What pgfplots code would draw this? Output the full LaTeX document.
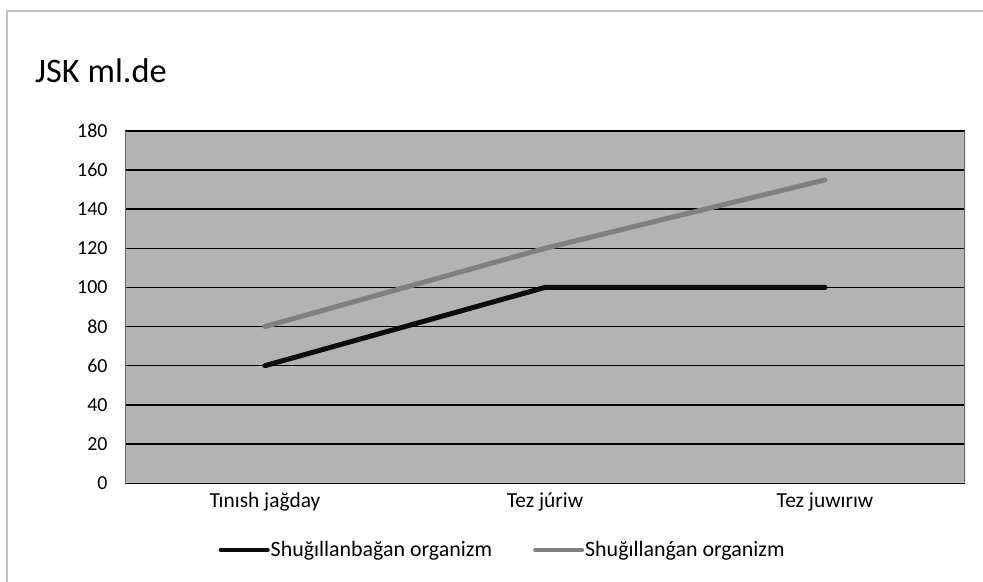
\documentclass[border=0pt]{standalone}
\usepackage{pgfplots}
\pgfplotsset{compat=1.18}
\usepackage{fontspec}
\setmainfont{Carlito}
\definecolor{plotbg}{HTML}{B3B3B3}
\definecolor{graylinec}{HTML}{808080}
\definecolor{framec}{HTML}{C0C0C0}
\begin{document}
\begin{tikzpicture}[x=1bp,y=1bp]
\path[use as bounding box] (0,0) rectangle (983,582);
\draw[framec,line width=1.5bp] (7,0) -- (7,571) -- (983,571);
\node[anchor=base west,inner sep=0pt,font=\fontsize{34.5}{38}\selectfont] at (35,499) {JSK ml.de};
\begin{axis}[
  at={(125bp,99bp)}, anchor=south west,
  scale only axis, width=840bp, height=352bp,
  xmin=-0.5, xmax=2.5, ymin=0, ymax=180,
  xtick={0,1,2}, xticklabels={Tınısh jağday, Tez júriw, Tez juwırıw},
  ytick={0,20,...,180},
  major tick length=0pt,
  /pgf/number format/assume math mode=true,
  tick label style={font=\fontsize{20}{22}\selectfont},
  xticklabel style={yshift=-6bp,font=\fontsize{21.5}{23}\selectfont},
  yticklabel style={xshift=-14bp},
  axis background/.style={fill=plotbg},
  axis line style={draw=none},
  ymajorgrids, grid style={black,line width=1.5bp},
  legend columns=2,
  legend style={at={(0.449,-0.19)},anchor=center,draw=none,fill=none,inner sep=0pt,
    nodes={inner sep=1bp},
    font=\fontsize{22}{24}\selectfont,
    /tikz/every even column/.append style={column sep=40bp}},
  legend image code/.code={\path[draw=none,fill=none] (0bp,-3bp) rectangle (51bp,3bp);\draw[#1,line width=4bp,line cap=round] (2bp,0bp) -- (49bp,0bp);},
  legend cell align=left,
]
\addplot[black!95,line width=5bp,line cap=round] coordinates {(0,60) (1,100) (2,100)};
\addlegendentry{Shuğıllanbağan organizm}
\addplot[graylinec,line width=5bp,line cap=round] coordinates {(0,80) (1,120) (2,155)};
\addlegendentry{Shuğıllanǵan organizm}
\draw[graylinec!80!black,line width=1.5bp] (rel axis cs:0,0) -- (rel axis cs:0,1);
\draw[graylinec!80!black,line width=1.5bp] (rel axis cs:1,0) -- (rel axis cs:1,1);
\draw[framec!90!white,line width=1.5bp] (rel axis cs:0,0) -- (rel axis cs:1,0);
\end{axis}
\end{tikzpicture}
\end{document}
